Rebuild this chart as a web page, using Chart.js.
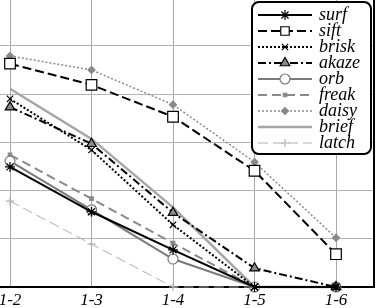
<!DOCTYPE html>
<html>
<head>
<meta charset="utf-8">
<script src="https://cdn.jsdelivr.net/npm/chart.js@4/dist/chart.umd.min.js"></script>
<style>
  html, body { margin: 0; padding: 0; background: #fff; overflow: hidden; width: 377px; height: 308px; }
  .chart-box { position: absolute; left: -40px; top: 0; width: 457px; height: 308px; }
</style>
</head>
<body>
<div class="chart-box"><canvas id="matchChart"></canvas></div>
<script>
const categories = ['1-2', '1-3', '1-4', '1-5', '1-6'];
const surf  = [24.9, 15.6, 7.7, 0, 0];
const sift  = [46.3, 41.9, 35.3, 24.1, 6.8];
const brisk = [39.0, 28.4, 12.9, 0, 0];
const akaze = [37.3, 29.7, 15.4, 3.9, 0];
const orb   = [26.1, 16.0, 5.8, 0, 0];
const freak = [27.4, 18.3, 9.1, 0, 0];
const daisy = [47.9, 45.0, 37.8, 25.9, 10.2];
const brief = [41.1, 30.7, 16.5, 0, 0];
const latch = [17.8, 8.9, 0, 0, 0];
const yTicks = [0, 10, 20, 30, 40, 50];

const toPoints = (arr) => arr.map((v, i) => ({ x: i, y: v }));

const series = [
    { label: 'surf',  data: surf,  color: '#000', width: 2, dash: [], style: 'star', radius: 5, fill: '#000' },
    { label: 'sift',  data: sift,  color: '#000', width: 2, dash: [9, 4], style: 'rect', radius: 7.5, fill: '#fff' },
    { label: 'brisk', data: brisk, color: '#000', width: 2, dash: [2, 2], style: 'crossRot', radius: 4.5, fill: '#000' },
    { label: 'akaze', data: akaze, color: '#000', width: 2, dash: [8, 3, 2, 3], style: 'triangle', radius: 5.5, fill: '#8a8a8a' },
    { label: 'orb',   data: orb,   color: '#7a7a7a', width: 2, dash: [], style: 'circle', radius: 5, fill: '#fff' },
    { label: 'freak', data: freak, color: '#8a8a8a', width: 2, dash: [9, 5], style: 'rect', radius: 2.5, fill: '#8a8a8a' },
    { label: 'daisy', data: daisy, color: '#8a8a8a', width: 1.5, dash: [2, 2], style: 'rectRot', radius: 3.5, fill: '#8a8a8a' },
    { label: 'brief', data: brief, color: '#a6a6a6', width: 2.5, dash: [], style: false, radius: 0, fill: '#a6a6a6' },
    { label: 'latch', data: latch, color: '#b0b0b0', width: 1, dash: [10, 5], style: 'cross', radius: 4, fill: '#b0b0b0' },
];

const frameAndLegend = {
    id: 'frameAndLegend',
    afterDraw(chart) {
        const ctx = chart.ctx;
        const area = chart.chartArea;
        ctx.save();
        // right border
        ctx.strokeStyle = '#000';
        ctx.lineWidth = 2;
        ctx.beginPath();
        ctx.moveTo(area.right, area.top);
        ctx.lineTo(area.right, area.bottom);
        ctx.stroke();

        // legend box
        const bx = area.left + 252, by = 2, bw = 119, bh = 152;
        ctx.fillStyle = '#fff';
        ctx.beginPath();
        ctx.roundRect(bx, by, bw, bh, 7);
        ctx.fill();
        ctx.stroke();

        ctx.font = "italic 18px 'Liberation Serif'";
        ctx.textBaseline = 'middle';
        chart.data.datasets.forEach((ds, i) => {
            const y = 15 + i * 16;
            const x0 = area.left + 258, x1 = area.left + 312, xm = area.left + 285;
            ctx.strokeStyle = ds.borderColor;
            ctx.lineWidth = ds.borderWidth;
            ctx.setLineDash(ds.borderDash);
            ctx.beginPath();
            ctx.moveTo(x0, y);
            ctx.lineTo(x1, y);
            ctx.stroke();
            ctx.setLineDash([]);
            if (ds.pointStyle) {
                ctx.fillStyle = ds.pointBackgroundColor;
                ctx.strokeStyle = ds.pointBorderColor;
                ctx.lineWidth = ds.pointBorderWidth;
                Chart.helpers.drawPoint(ctx, {
                    pointStyle: ds.pointStyle,
                    radius: ds.pointStyle === 'rect' && ds.pointRadius > 5 ? 6 : ds.pointRadius,
                    rotation: 0,
                    borderWidth: ds.pointBorderWidth,
                }, xm, y);
            }
            ctx.fillStyle = '#000';
            ctx.fillText(ds.label, area.left + 319, y);
        });
        ctx.restore();
    }
};

const ctx = document.getElementById('matchChart').getContext('2d');
window.matchChart = new Chart(ctx, {
    type: 'line',
    data: {
        datasets: series.map((s) => ({
            label: s.label,
            data: toPoints(s.data),
            borderColor: s.color,
            borderWidth: s.width,
            borderDash: s.dash,
            pointStyle: s.style,
            pointRadius: s.radius,
            pointBackgroundColor: s.fill,
            pointBorderColor: s.color,
            pointBorderWidth: 1.2,
            tension: 0,
            clip: false,
        })),
    },
    options: {
        responsive: true,
        maintainAspectRatio: false,
        animation: false,
        layout: { autoPadding: false, padding: { left: 40, right: 43, top: 0, bottom: 0 } },
        scales: {
            x: {
                type: 'linear',
                min: -0.1227,
                max: 4.466,
                afterBuildTicks: (scale) => {
                    scale.ticks = categories.map((c, i) => ({ value: i }));
                },
                afterFit: (scale) => { scale.height = 21; },
                grid: { color: '#a8a8a8', lineWidth: 1, drawTicks: false },
                border: { color: '#000', width: 2 },
                ticks: {
                    autoSkip: false,
                    maxRotation: 0,
                    padding: 3,
                    color: '#000',
                    font: { family: "'Liberation Serif'", style: 'italic', size: 17 },
                    callback: (v) => categories[v],
                },
            },
            y: {
                min: 0,
                max: 59.5,
                afterBuildTicks: (scale) => {
                    scale.ticks = yTicks.map((v) => ({ value: v }));
                },
                grid: { color: '#b4b4b4', lineWidth: 1, drawTicks: false },
                border: { display: false },
                ticks: { display: false },
            },
        },
        plugins: {
            legend: { display: false },
            tooltip: { enabled: false },
        },
    },
    plugins: [frameAndLegend],
});
</script>
</body>
</html>
